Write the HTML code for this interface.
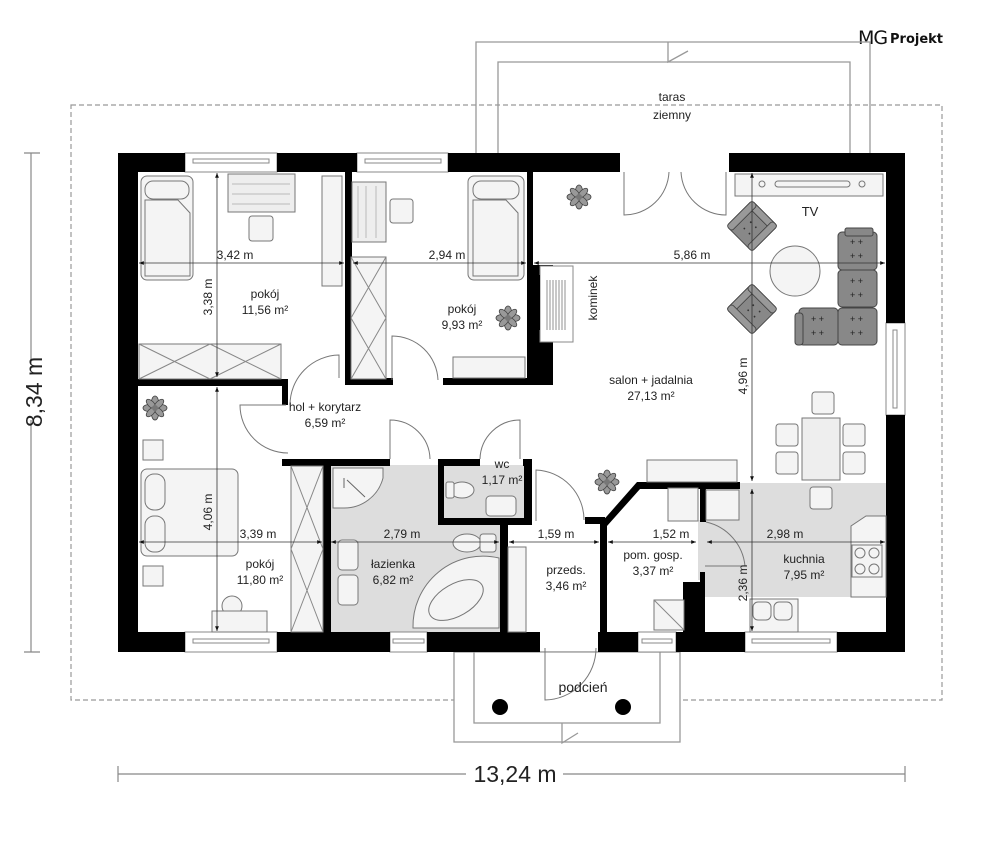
<!DOCTYPE html>
<html><head><meta charset="utf-8"><style>
html,body{margin:0;padding:0;background:#fff;}
svg{display:block;}
text{font-family:"Liberation Sans",sans-serif;fill:#222;}
</style></head><body>
<svg width="995" height="853" viewBox="0 0 995 853" xmlns="http://www.w3.org/2000/svg">
<defs>
<marker id="ar" viewBox="0 0 10 10" refX="10" refY="5" markerWidth="6" markerHeight="6" orient="auto-start-reverse"><path d="M0,1 L10,5 L0,9 z" fill="#111"/></marker>
<g id="plant"><g fill="#999" stroke="#444" stroke-width="0.8">
<ellipse cx="0" cy="-6" rx="3.5" ry="6"/><ellipse cx="0" cy="6" rx="3.5" ry="6"/><ellipse cx="-6" cy="0" rx="6" ry="3.5"/><ellipse cx="6" cy="0" rx="6" ry="3.5"/>
<ellipse cx="-4" cy="-4" rx="3" ry="6" transform="rotate(-45 -4 -4)"/><ellipse cx="4" cy="4" rx="3" ry="6" transform="rotate(-45 4 4)"/><ellipse cx="4" cy="-4" rx="3" ry="6" transform="rotate(45 4 -4)"/><ellipse cx="-4" cy="4" rx="3" ry="6" transform="rotate(45 -4 4)"/></g>
<circle r="3" fill="#777"/></g>
<g id="chair"><rect x="-20" y="-20" width="40" height="40" rx="4" fill="#888" stroke="#444"/><rect x="-20" y="-20" width="40" height="8" rx="3" fill="#999" stroke="#444"/><rect x="-20" y="-20" width="8" height="40" rx="3" fill="#999" stroke="#444"/><rect x="12" y="-20" width="8" height="40" rx="3" fill="#999" stroke="#444"/><g fill="#333"><circle cx="-4" cy="-2" r="1"/><circle cx="4" cy="-2" r="1"/><circle cx="-4" cy="8" r="1"/><circle cx="4" cy="8" r="1"/></g></g>
</defs>

<text x="858" y="44" font-size="19" style="font-family:'DejaVu Sans',sans-serif;fill:#111" letter-spacing="-1">MG</text>
<text x="890" y="43" font-size="13" style="font-family:'DejaVu Sans',sans-serif;fill:#111" font-weight="bold">Projekt</text>

<g fill="none" stroke="#999" stroke-width="1.3">
<path d="M476,153 V42 H870 V153"/>
<path d="M498,153 V62 H850 V153"/>
<path d="M668,42 V62 L688,51"/>
</g>
<text x="672" y="101" font-size="12" text-anchor="middle">taras</text>
<text x="672" y="119" font-size="12" text-anchor="middle">ziemny</text>

<rect x="71" y="105" width="871" height="595" fill="none" stroke="#999" stroke-width="1.2" stroke-dasharray="5,3"/>

<rect x="454" y="652" width="226" height="90" fill="#fff" stroke="#999" stroke-width="1.3"/>
<rect x="474" y="652" width="186" height="71" fill="#fff" stroke="#999" stroke-width="1.3"/>
<path d="M562,723 V743 L578,733" fill="none" stroke="#999" stroke-width="1.3"/>
<circle cx="500" cy="707" r="8" fill="#000"/><circle cx="623" cy="707" r="8" fill="#000"/>
<path d="M545,648 V700 A52,52 0 0 0 596,648" fill="none" stroke="#777" stroke-width="1"/>
<text x="583" y="692" font-size="14" text-anchor="middle">podcień</text>

<rect x="330" y="465" width="172" height="167" fill="#ddd"/>
<rect x="444" y="465" width="82" height="55" fill="#ddd"/>
<path d="M705,483 H886 V597 H845 V520 L705,520 Z" fill="#ddd"/>
<rect x="705" y="483" width="140" height="114" fill="#ddd"/>
<rect x="698" y="520" width="40" height="60" fill="#ddd"/>

<g fill="#fff" stroke="#888" stroke-width="1">
<rect x="185" y="153" width="92" height="19"/><rect x="193" y="159" width="76" height="4"/>
<rect x="357" y="153" width="91" height="19"/><rect x="365" y="159" width="76" height="4"/>
<rect x="185" y="632" width="92" height="20"/><rect x="193" y="639" width="76" height="4"/>
<rect x="390" y="632" width="37" height="20"/><rect x="393" y="639" width="31" height="4"/>
<rect x="638" y="632" width="38" height="20"/><rect x="642" y="639" width="30" height="4"/>
<rect x="745" y="632" width="92" height="20"/><rect x="752" y="639" width="78" height="4"/>
<rect x="886" y="323" width="19" height="92"/><rect x="893" y="330" width="4" height="78"/>
</g>

<g fill="#000">
<rect x="118" y="153" width="67" height="19"/>
<rect x="277" y="153" width="80" height="19"/>
<rect x="448" y="153" width="172" height="19"/>
<rect x="729" y="153" width="176" height="19"/>
<rect x="118" y="153" width="20" height="499"/>
<rect x="886" y="153" width="19" height="170"/>
<rect x="886" y="415" width="19" height="237"/>
<rect x="118" y="632" width="67" height="20"/>
<rect x="277" y="632" width="113" height="20"/>
<rect x="427" y="632" width="113" height="20"/>
<rect x="598" y="632" width="40" height="20"/>
<rect x="676" y="632" width="69" height="20"/>
<rect x="837" y="632" width="68" height="20"/>
<rect x="345" y="172" width="7" height="213"/>
<rect x="345" y="378" width="48" height="7"/>
<rect x="443" y="378" width="110" height="7"/>
<rect x="527" y="172" width="6" height="213"/>
<path d="M527,265 H553 V275 H540 V330 H553 V385 H527 Z"/>
<rect x="138" y="379" width="150" height="7"/>
<rect x="282" y="379" width="6" height="26"/>
<rect x="282" y="459" width="108" height="7"/>
<rect x="323" y="459" width="8" height="173"/>
<rect x="438" y="459" width="42" height="7"/>
<rect x="523" y="459" width="8" height="7"/>
<rect x="438" y="459" width="6" height="66"/>
<rect x="524" y="459" width="8" height="66"/>
<rect x="438" y="518" width="94" height="7"/>
<rect x="500" y="518" width="8" height="114"/>
<rect x="600" y="518" width="7" height="114"/>
<rect x="585" y="517" width="20" height="7"/>
<path d="M600,524 L637,482 H740 V489 H640 L607,526 Z"/>
<rect x="700" y="482" width="6" height="40"/>
<rect x="683" y="582" width="22" height="50"/>
<rect x="700" y="572" width="5" height="12"/>
</g>

<rect x="540" y="266" width="33" height="76" fill="#fff" stroke="#888"/>
<g stroke="#777" stroke-width="0.8"><path d="M547,280 V330 M550,280 V330 M553,280 V330 M556,280 V330 M559,280 V330 M562,280 V330 M565,280 V330"/></g>
<rect x="527" y="275" width="13" height="55" fill="#000"/>
<text font-size="12" transform="translate(597,298) rotate(-90)" text-anchor="middle">kominek</text>

<g fill="#f4f4f4" stroke="#777" stroke-width="1">
<rect x="141" y="176" width="52" height="104" rx="6"/><rect x="145" y="181" width="44" height="18" rx="8"/><path d="M145,200 H178 L190,213 V276 H145 Z"/>
<rect x="228" y="174" width="67" height="38" fill="#eee"/><path d="M232,184 H290 M232,194 H290 M232,204 H290" stroke="#bbb"/>
<rect x="249" y="216" width="24" height="25" rx="3"/>
<rect x="322" y="176" width="20" height="110"/>
<rect x="139" y="344" width="142" height="35"/><path d="M139,344 L210,379 M210,344 L139,379 M210,344 L281,379 M281,344 L210,379" stroke="#888"/>
<rect x="352" y="182" width="34" height="60" fill="#eee"/><path d="M358,186 V238 M366,186 V238 M376,186 V238" stroke="#bbb"/>
<rect x="390" y="199" width="23" height="24" rx="3"/>
<rect x="468" y="176" width="56" height="104" rx="6"/><rect x="473" y="181" width="46" height="18" rx="8"/><path d="M473,200 H506 L518,213 V276 H473 Z"/>
<rect x="351" y="257" width="35" height="122"/><path d="M351,257 L386,318 M386,257 L351,318 M351,318 L386,379 M386,318 L351,379" stroke="#888"/>
<rect x="453" y="357" width="72" height="21"/>
<rect x="143" y="440" width="20" height="20"/>
<rect x="141" y="469" width="97" height="87" rx="6"/><rect x="145" y="474" width="20" height="36" rx="9"/><rect x="145" y="516" width="20" height="36" rx="9"/>
<rect x="143" y="566" width="20" height="20"/>
<circle cx="232" cy="606" r="10"/><rect x="212" y="611" width="55" height="21"/>
<rect x="291" y="466" width="32" height="166"/><path d="M291,466 L323,549 M323,466 L291,549 M291,549 L323,632 M323,549 L291,632" stroke="#888"/>
<path d="M333,468 H383 V478 A40,40 0 0 1 343,508 H333 Z"/><path d="M347,480 L365,497 M344,478 V488" stroke="#666"/>
<rect x="338" y="540" width="20" height="30" rx="4"/><rect x="338" y="575" width="20" height="30" rx="4"/>
<path d="M413,628 A70,70 0 0 1 499,558 V628 Z"/><ellipse cx="456" cy="600" rx="30" ry="16" transform="rotate(-30 456 600)"/>
<ellipse cx="467" cy="543" rx="14" ry="9"/><rect x="480" y="534" width="16" height="18" rx="3"/>
<ellipse cx="462" cy="490" rx="12" ry="8"/><rect x="446" y="482" width="8" height="16" rx="2"/><rect x="486" y="496" width="30" height="20" rx="4"/>
<rect x="508" y="547" width="18" height="85"/>
<rect x="654" y="600" width="30" height="30"/><path d="M654,600 L684,630" stroke="#888"/>
<rect x="668" y="488" width="30" height="33"/><rect x="706" y="490" width="33" height="30"/>
<rect x="647" y="460" width="90" height="22"/>
<rect x="735" y="174" width="148" height="22"/><rect x="775" y="181" width="75" height="6" rx="3"/><circle cx="762" cy="184" r="3"/><circle cx="862" cy="184" r="3"/>
<circle cx="795" cy="271" r="25"/>
<rect x="812" y="392" width="22" height="22" rx="3"/>
<rect x="776" y="424" width="22" height="22" rx="3"/><rect x="776" y="452" width="22" height="22" rx="3"/>
<rect x="802" y="418" width="38" height="62" fill="#eee"/>
<rect x="843" y="424" width="22" height="22" rx="3"/><rect x="843" y="452" width="22" height="22" rx="3"/>
<rect x="810" y="487" width="22" height="22" rx="3"/>
<path d="M886,516 H866 L851,526 V597 H886 Z"/>
<rect x="852" y="545" width="30" height="32"/><g fill="none"><circle cx="860" cy="553" r="5"/><circle cx="874" cy="553" r="5"/><circle cx="860" cy="569" r="5"/><circle cx="874" cy="569" r="5"/></g>
<rect x="750" y="599" width="48" height="33"/><rect x="753" y="602" width="18" height="18" rx="5"/><rect x="774" y="602" width="18" height="18" rx="5"/>
</g>
<g fill="#888" stroke="#444" stroke-width="1">
<rect x="838" y="232" width="39" height="38" rx="4"/><rect x="838" y="270" width="39" height="37" rx="4"/><rect x="838" y="308" width="39" height="37" rx="4"/><rect x="799" y="308" width="39" height="37" rx="4"/><rect x="795" y="313" width="8" height="32" rx="3"/><rect x="845" y="228" width="28" height="8" rx="2"/>
</g>
<g fill="#333"><g transform="translate(850,245)"><text x="0" y="0" font-size="9">+ +</text><text x="0" y="14" font-size="9">+ +</text></g>
<g transform="translate(850,284)"><text x="0" y="0" font-size="9">+ +</text><text x="0" y="14" font-size="9">+ +</text></g>
<g transform="translate(850,322)"><text x="0" y="0" font-size="9">+ +</text><text x="0" y="14" font-size="9">+ +</text></g>
<g transform="translate(811,322)"><text x="0" y="0" font-size="9">+ +</text><text x="0" y="14" font-size="9">+ +</text></g></g>
<use href="#chair" transform="translate(752,226) rotate(45) scale(0.9)"/>
<use href="#chair" transform="translate(752,309) rotate(-45) scale(0.9)"/>
<g fill="none" stroke="#777" stroke-width="1">
<path d="M624,172 V215 A45,45 0 0 0 669,172 M726,172 V215 A45,45 0 0 1 681,172"/>
<path d="M290,405 A50,50 0 0 1 339,355 V378"/>
<path d="M392,380 V336 A46,46 0 0 1 438,380"/>
<path d="M286,405 H240 A48,48 0 0 0 288,453"/>
<path d="M390,459 V420 A40,40 0 0 1 430,459"/>
<path d="M480,459 A40,40 0 0 1 520,420 V459"/>
<path d="M536,521 V470 A50,50 0 0 1 584,520"/>
<path d="M706,522 A50,50 0 0 1 745,566 H705"/>
</g>
<use href="#plant" transform="translate(579,197)"/>
<use href="#plant" transform="translate(508,318)"/>
<use href="#plant" transform="translate(155,408)"/>
<use href="#plant" transform="translate(607,482)"/>

<g stroke="#333" stroke-width="0.8" fill="none" marker-start="url(#ar)" marker-end="url(#ar)">
<line x1="139" y1="263" x2="344" y2="263"/>
<line x1="353" y1="263" x2="526" y2="263"/>
<line x1="534" y1="263" x2="885" y2="263"/>
<line x1="139" y1="542" x2="322" y2="542"/>
<line x1="331" y1="542" x2="499" y2="542"/>
<line x1="509" y1="542" x2="599" y2="542"/>
<line x1="608" y1="542" x2="696" y2="542"/>
<line x1="707" y1="542" x2="885" y2="542"/>
<line x1="217" y1="173" x2="217" y2="377"/>
<line x1="217" y1="387" x2="217" y2="631"/>
<line x1="752" y1="173" x2="752" y2="481"/>
<line x1="752" y1="489" x2="752" y2="631"/>
</g>
<g font-size="12">
<text x="235" y="259" text-anchor="middle">3,42 m</text>
<text x="447" y="259" text-anchor="middle">2,94 m</text>
<text x="692" y="259" text-anchor="middle">5,86 m</text>
<text x="258" y="538" text-anchor="middle">3,39 m</text>
<text x="402" y="538" text-anchor="middle">2,79 m</text>
<text x="556" y="538" text-anchor="middle">1,59 m</text>
<text x="671" y="538" text-anchor="middle">1,52 m</text>
<text x="785" y="538" text-anchor="middle">2,98 m</text>
<text transform="translate(212,297) rotate(-90)" text-anchor="middle">3,38 m</text>
<text transform="translate(212,512) rotate(-90)" text-anchor="middle">4,06 m</text>
<text transform="translate(747,376) rotate(-90)" text-anchor="middle">4,96 m</text>
<text transform="translate(747,583) rotate(-90)" text-anchor="middle">2,36 m</text>
</g>

<g font-size="12" text-anchor="middle">
<text x="265" y="298">pokój</text><text x="265" y="314">11,56 m²</text>
<text x="462" y="313">pokój</text><text x="462" y="329">9,93 m²</text>
<text x="325" y="411">hol + korytarz</text><text x="325" y="427">6,59 m²</text>
<text x="502" y="468">wc</text><text x="502" y="484">1,17 m²</text>
<text x="260" y="568">pokój</text><text x="260" y="584">11,80 m²</text>
<text x="393" y="568">łazienka</text><text x="393" y="584">6,82 m²</text>
<text x="566" y="574">przeds.</text><text x="566" y="590">3,46 m²</text>
<text x="653" y="559">pom. gosp.</text><text x="653" y="575">3,37 m²</text>
<text x="804" y="563">kuchnia</text><text x="804" y="579">7,95 m²</text>
<text x="651" y="384">salon + jadalnia</text><text x="651" y="400">27,13 m²</text>
<text x="810" y="216" font-size="13">TV</text>
</g>

<g stroke="#888" stroke-width="1.2" fill="none">
<path d="M31,153 V365 M31,420 V652 M24,153 H40 M24,652 H40"/>
<path d="M118,774 H466 M563,774 H905 M118,766 V782 M905,766 V782"/>
</g>
<text transform="translate(42,392) rotate(-90)" font-size="23" text-anchor="middle">8,34 m</text>
<text x="515" y="782" font-size="23" text-anchor="middle">13,24 m</text>
</svg>
</body></html>
